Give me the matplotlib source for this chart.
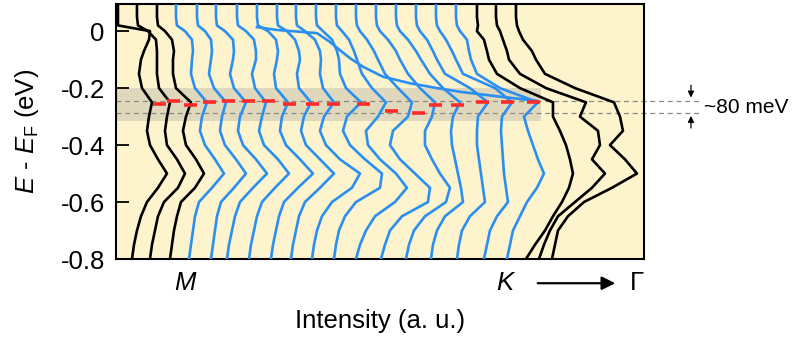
import matplotlib
matplotlib.use("Agg")
import matplotlib.pyplot as plt

plt.rcParams['font.family'] = ['Liberation Sans', 'DejaVu Sans']
plt.rcParams['mathtext.fontset'] = 'custom'
plt.rcParams['mathtext.rm'] = 'Liberation Sans'
plt.rcParams['mathtext.it'] = 'Liberation Sans:italic'
plt.rcParams['axes.unicode_minus'] = False

# binding energy grid (eV) shared by all EDCs
energy = [0.095, 0.05, 0.02, 0.0, -0.03, -0.07, -0.1, -0.15, -0.2, -0.25, -0.3,
          -0.35, -0.4, -0.45, -0.5, -0.55, -0.6, -0.65, -0.7, -0.75, -0.8]

# EDCs near M (black)
edc_m = [
    [118, 118, 118, 150, 149, 144, 141, 139, 142, 152, 149, 147, 150, 158, 167, 158, 147, 141, 137, 134, 132],
    [137, 137, 138, 148, 156, 157, 157, 157, 159, 170, 167, 165, 167, 177, 185, 178, 164, 158, 155, 152, 150],
    [157, 157, 158, 165, 172, 174, 173, 173, 176, 191, 186, 183, 186, 196, 204, 195, 181, 177, 174, 172, 170],
]

# EDCs along M-K (blue)
edc_mk = [
    [176, 176, 177, 185, 192, 193, 192, 191, 195, 207, 202, 200, 205, 215, 224, 212, 199, 195, 193, 191, 189],
    [197, 197, 198, 205, 211, 212, 211, 209, 214, 226, 222, 220, 225, 236, 246, 234, 221, 217, 215, 213, 211],
    [216, 216, 217, 225, 233, 234, 233, 230, 234, 246, 240, 238, 243, 256, 267, 253, 240, 235, 232, 229, 227],
    [237, 237, 238, 246, 254, 256, 256, 252, 255, 266, 262, 259, 264, 278, 289, 275, 262, 257, 254, 251, 249],
    [257, 257, 258, 268, 276, 278, 277, 274, 276, 288, 282, 280, 286, 300, 313, 298, 284, 279, 276, 273, 271],
    [277, 277, 278, 287, 295, 299, 300, 297, 299, 311, 304, 301, 306, 320, 334, 320, 305, 299, 296, 293, 291],
    [296, 296, 297, 305, 315, 320, 321, 320, 323, 334, 324, 320, 326, 340, 360, 352, 332, 322, 317, 314, 312],
    [316, 316, 317, 323, 332, 337, 339, 340, 346, 361, 347, 343, 350, 365, 382, 380, 356, 345, 339, 336, 334],
    [336, 336, 337, 342, 349, 354, 357, 362, 372, 386, 378, 366, 368, 380, 396, 407, 395, 375, 366, 360, 356],
    [356, 356, 357, 360, 367, 374, 378, 385, 398, 412, 408, 393, 390, 400, 415, 430, 428, 402, 390, 385, 381],
    [376, 376, 377, 380, 388, 396, 400, 408, 420, 435, 432, 425, 425, 432, 440, 450, 446, 425, 414, 409, 406],
    [396, 396, 397, 400, 408, 416, 421, 430, 443, 460, 453, 451, 452, 455, 458, 461, 463, 445, 437, 433, 431],
    [416, 416, 417, 420, 427, 433, 437, 445, 470, 488, 478, 477, 477, 479, 481, 483, 485, 470, 462, 459, 457],
    [436, 436, 437, 440, 446, 452, 456, 463, 495, 512, 502, 501, 502, 503, 504, 506, 508, 497, 490, 487, 484],
    [456, 456, 457, 460, 467, 469, 471, 477, 500, 538, 524, 528, 533, 538, 544, 537, 527, 520, 513, 510, 507],
]

# EDCs from K towards Gamma (black)
edc_kg = [
    [477, 477, 478, 477, 484, 487, 489, 497, 520, 553, 553, 560, 566, 570, 573, 569, 562, 553, 545, 535, 526],
    [496, 496, 497, 500, 503, 507, 509, 520, 546, 586, 580, 598, 600, 592, 605, 592, 575, 558, 550, 544, 539],
    [516, 516, 517, 519, 523, 532, 536, 545, 575, 614, 620, 623, 610, 625, 637, 612, 584, 568, 558, 555, 552],
]

# strongly dispersing branch seen across the M-K curves
branch_e = [0.014, 0.004, -0.007, -0.038, -0.067, -0.095, -0.125, -0.16, -0.183, -0.2, -0.213, -0.23, -0.245]
branch_x = [257, 277, 317, 330, 340, 350, 363, 383, 410, 437, 460, 500, 537]

# peak positions (red marks)
peak_x = [160, 174, 191, 210, 229, 249, 269, 290, 313, 334, 364, 392, 419, 436, 458, 483, 508, 534]
peak_e = [-0.256, -0.246, -0.26, -0.249, -0.246, -0.246, -0.246, -0.256, -0.256, -0.256,
          -0.256, -0.281, -0.288, -0.26, -0.26, -0.249, -0.249, -0.249]

band = (-0.316, -0.2)
gap_lines = [-0.245, -0.286]

blue = '#2a8ff0'

fig = plt.figure(figsize=(7.96, 3.38), dpi=100)
ax = fig.add_axes([0.1457, 0.2337, 0.6633, 0.7543])
ax.set_facecolor('#fdf3cd')

ax.axhspan(band[0], band[1], xmin=0, xmax=(541 - 116) / 528, color='#8a8a8a', alpha=0.25, lw=0, zorder=1)
for e in gap_lines:
    ax.plot([116, 702], [e, e], color='#8a8a80', lw=0.9, ls=(0, (4, 3)), clip_on=False, zorder=2)

for c in edc_m + edc_kg:
    ax.plot(c, energy, color='black', lw=1.9, zorder=3)
for c in edc_mk:
    ax.plot(c, energy, color=blue, lw=1.9, zorder=3)
ax.plot(branch_x, branch_e, color=blue, lw=1.9, zorder=3)

ax.hlines(peak_e, [x - 6.5 for x in peak_x], [x + 6.5 for x in peak_x], color='#ff2a2a', lw=2.6, zorder=4)

ax.set_xlim(116, 644)
ax.set_ylim(-0.8, 0.095)
ax.set_xticks([])
ax.set_yticks([0, -0.2, -0.4, -0.6, -0.8])
ax.set_yticklabels(['0', '-0.2', '-0.4', '-0.6', '-0.8'])
ax.tick_params(axis='y', direction='in', length=9, width=1.3, labelsize=18.5, pad=8)
for s in ax.spines.values():
    s.set_linewidth(1.5)

ax.set_ylabel(r'$E$ - $E_\mathrm{F}$ (eV)', fontsize=18.5, labelpad=14)
ax.set_xlabel('Intensity (a. u.)', fontsize=18.5, labelpad=36)

ax.text(185, -0.885, 'M', style='italic', fontsize=18.5, ha='center', va='center', clip_on=False)
ax.text(505, -0.885, 'K', style='italic', fontsize=18.5, ha='center', va='center', clip_on=False)
ax.text(637, -0.885, '\u0393', fontsize=18.5, ha='center', va='center', clip_on=False)
ax.annotate('', xy=(618, -0.885), xytext=(535, -0.885), annotation_clip=False,
            arrowprops=dict(arrowstyle='-|>', color='black', lw=1.6, mutation_scale=20))

ax.annotate('', xy=(691, -0.243), xytext=(691, -0.18), annotation_clip=False,
            arrowprops=dict(arrowstyle='-|>', color='black', lw=0.9, mutation_scale=9))
ax.annotate('', xy=(691, -0.288), xytext=(691, -0.35), annotation_clip=False,
            arrowprops=dict(arrowstyle='-|>', color='black', lw=0.9, mutation_scale=9))
ax.text(704, -0.267, '~80 meV', fontsize=15, ha='left', va='center', clip_on=False)

fig.savefig('out.png', dpi=100)
